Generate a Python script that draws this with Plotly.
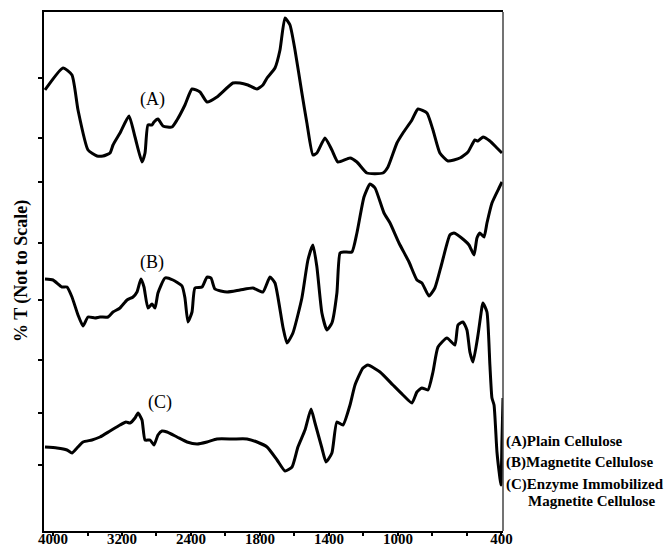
import numpy as np
import plotly.graph_objects as go

# ---- data (wavenumber cm-1, relative %T) ----
wn_A = [4093, 3884, 3780, 3710, 3594, 3490, 3420, 3339, 3304, 3223, 3119, 3049, 2968, 2933,
        2899, 2852, 2829, 2783, 2725, 2620, 2562, 2470, 2388, 2296, 2214, 2099, 1957, 1916,
        1870, 1817, 1783, 1759, 1713, 1684, 1655, 1626, 1597, 1557, 1528, 1493, 1470, 1423,
        1383, 1348, 1278, 1238, 1180, 1087, 1058, 1006, 971, 919, 884, 832, 797, 757, 710,
        641, 594, 554, 536, 507, 467, 426, 397]
t_A = [441, 463, 456, 421, 381, 375, 375, 378, 386, 398, 415, 394, 369, 378,
       406, 406, 409, 412, 405, 404, 411, 426, 442, 439, 429, 434, 448, 448,
       446, 442, 446, 453, 463, 481, 513, 506, 481, 438, 408, 376, 378, 393,
       381, 369, 373, 369, 358, 358, 364, 388, 398, 411, 422, 418, 401, 378, 370,
       373, 379, 391, 390, 394, 390, 383, 378]

wn_B = [4093, 4000, 3896, 3838, 3780, 3710, 3652, 3594, 3513, 3455, 3362, 3304, 3223, 3142,
        3072, 3026, 2980, 2945, 2899, 2852, 2817, 2783, 2701, 2609, 2504, 2470, 2435, 2388,
        2354, 2272, 2214, 2168, 2122, 1991, 1916, 1841, 1783, 1742, 1713, 1667, 1643, 1609,
        1557, 1522, 1493, 1470, 1441, 1412, 1383, 1354, 1336, 1313, 1267, 1238, 1197, 1162,
        1133, 1081, 1046, 994, 936, 890, 861, 820, 786, 745, 699, 675, 617, 588, 559, 542,
        525, 501, 484, 455, 414, 397]
t_B = [252, 251, 244, 244, 234, 216, 205, 214, 213, 214, 214, 219, 223, 231,
       234, 239, 252, 244, 223, 227, 223, 238, 253, 251, 245, 233, 209, 219,
       243, 244, 254, 253, 242, 239, 241, 243, 239, 254, 248, 204, 188, 198,
       233, 271, 286, 264, 218, 201, 208, 238, 278, 279, 279, 298, 334, 347,
       343, 318, 308, 288, 269, 251, 248, 235, 243, 268, 296, 298, 291, 286, 276, 293,
       298, 294, 308, 328, 343, 349]

wn_C = [4093, 3954, 3838, 3780, 3722, 3652, 3548, 3455, 3339, 3223, 3154, 3107, 3049, 3014,
        2968, 2933, 2875, 2829, 2783, 2736, 2678, 2562, 2446, 2330, 2214, 2099, 1957, 1875,
        1817, 1759, 1701, 1655, 1614, 1580, 1539, 1504, 1481, 1441, 1417, 1383, 1354, 1319,
        1278, 1249, 1203, 1174, 1104, 1029, 971, 919, 890, 861, 826, 797, 768, 716, 670,
        652, 623, 600, 583, 565, 536, 513, 507, 484, 467, 455, 443, 426, 409, 403, 397, 391]
t_C = [84, 83, 81, 78, 83, 89, 91, 94, 100, 106, 109, 108, 113, 118,
       111, 91, 91, 86, 96, 100, 99, 94, 89, 87, 89, 92, 92, 92,
       89, 84, 71, 60, 64, 84, 101, 122, 108, 83, 69, 78, 109, 106,
       126, 146, 163, 166, 159, 146, 136, 128, 139, 143, 141, 159, 184, 193, 186,
       206, 209, 201, 179, 169, 196, 224, 228, 219, 166, 133, 126, 79, 53, 46, 91, 133]

tick_wn = [4000, 3600, 3200, 2800, 2400, 2000, 1800, 1600, 1400, 1200, 1000, 800, 600, 400]
tick_labels = ["4000", "", "3200", "", "2400", "", "1800", "", "1400", "", "1000", "", "", "400"]
y_ticks = [453, 393, 349, 288, 231, 171, 118, 66]

curve_labels = ["(A)", "(B)", "(C)"]
legend_lines = ["(A)Plain Cellulose", "(B)Magnetite Cellulose", "(C)Enzyme Immobilized",
                "Magnetite Cellulose"]


def wn_to_pos(w):
    # two-scale FTIR axis: 400 cm-1 per unit above 2000, 200 cm-1 per unit below
    w = np.asarray(w, dtype=float)
    return np.where(w >= 2000, (4000 - w) / 400.0, 5 + (2000 - w) / 200.0)


fig = go.Figure()
for wn, t in [(wn_A, t_A), (wn_B, t_B), (wn_C, t_C)]:
    fig.add_trace(go.Scatter(x=wn_to_pos(wn), y=t, mode="lines",
                             line=dict(color="black", width=3, shape="spline", smoothing=0.5),
                             showlegend=False, hoverinfo="skip"))

serif = "Liberation Serif"

# curve labels
for lab, wpos, ypos in zip(curve_labels, [2850, 2850, 2760], [432, 269, 129]):
    fig.add_annotation(x=float(wn_to_pos(wpos)), y=ypos, text=lab, showarrow=False,
                       font=dict(family=serif, size=18, color="black"))

# legend-like text block at right
leg_y = [441, 462, 484, 501]
leg_x = [504, 504, 504, 526]
for txt, px, py in zip(legend_lines, leg_x, leg_y):
    fig.add_annotation(xref="paper", yref="paper", x=(px - 44) / 459.0, y=(531 - py) / 519.0,
                       xanchor="left", yanchor="middle", text=txt, showarrow=False,
                       font=dict(family=serif, size=15, color="black", weight="bold"))

# y title
fig.add_annotation(xref="paper", yref="paper", x=(21 - 44) / 459.0, y=(531 - 271) / 519.0,
                   text="% T (Not to Scale)", textangle=-90, showarrow=False,
                   xanchor="center", yanchor="middle",
                   font=dict(family=serif, size=18, color="black", weight="bold"))

# right border (lighter)
fig.add_shape(type="line", xref="paper", yref="paper", x0=1, x1=1, y0=0, y1=1,
              line=dict(color="#444", width=1.5))

fig.update_xaxes(range=[-0.261, 13.045], tickmode="array",
                 tickvals=wn_to_pos(tick_wn).tolist(), ticktext=tick_labels,
                 ticks="outside", ticklen=3, tickwidth=1.5, tickcolor="black",
                 showline=True, linecolor="black", linewidth=2, mirror=True,
                 showgrid=False, zeroline=False, automargin=False,
                 ticklabelstandoff=-10,
                 tickfont=dict(family=serif, size=15, color="black", weight="bold"))
fig.update_yaxes(range=[0, 519], tickmode="array", tickvals=y_ticks,
                 showticklabels=False, ticks="outside", ticklen=4, tickwidth=1.5,
                 tickcolor="black", showline=True, linecolor="black", linewidth=2,
                 showgrid=False, zeroline=False, automargin=False)

fig.update_layout(width=664, height=550, margin=dict(l=44, r=161, t=12, b=19),
                  plot_bgcolor="white", paper_bgcolor="white")

fig.write_html("out.html")
